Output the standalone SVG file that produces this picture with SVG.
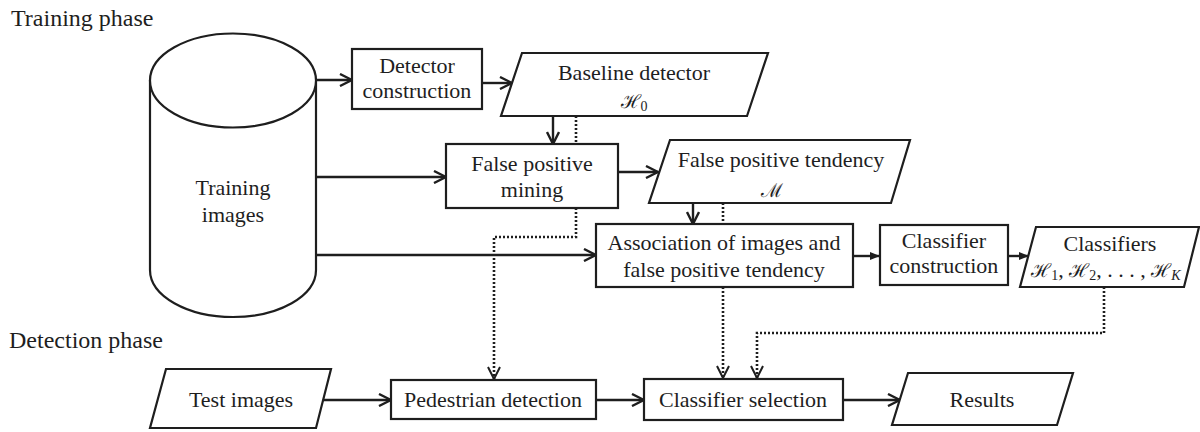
<svg xmlns="http://www.w3.org/2000/svg" width="1200" height="432" viewBox="0 0 1200 432">
<style>
text{font-family:'Liberation Serif','Times New Roman',serif;fill:#1e1e1e;font-size:22px}
.lbl{text-anchor:middle}
.title{font-size:24px}
.sub{font-size:14px}
.math{font-family:'DejaVu Serif',serif;font-size:19px}
.shape{fill:#fff;stroke:#1e1e1e;stroke-width:2.2}
.line{fill:none;stroke:#1e1e1e;stroke-width:2.4}
.dot{fill:none;stroke:#1e1e1e;stroke-width:2.6;stroke-dasharray:2 2}
</style>
<defs>
<marker id="open" viewBox="0 0 14 14" refX="13" refY="7" markerWidth="14" markerHeight="14" markerUnits="userSpaceOnUse" orient="auto">
<path d="M1,1 L13,7 L1,13" fill="none" stroke="#1e1e1e" stroke-width="2.4"/>
</marker>
<marker id="openD" viewBox="0 0 14 14" refX="13" refY="7" markerWidth="14" markerHeight="14" markerUnits="userSpaceOnUse" orient="auto">
<path d="M1,1 L13,7 L1,13" fill="none" stroke="#1e1e1e" stroke-width="2"/>
</marker>
<marker id="fill" viewBox="0 0 10 10" refX="10" refY="5" markerWidth="10" markerHeight="10" markerUnits="userSpaceOnUse" orient="auto">
<path d="M0,1 L10,5 L0,9 Z" fill="#1e1e1e"/>
</marker>
</defs>

<text class="title" x="11" y="26">Training phase</text>
<text class="title" x="9" y="348">Detection phase</text>

<g id="connectors">
<path class="line" d="M316,80 L352,80" marker-end="url(#open)"/>
<path class="line" d="M482,83 L512,83" marker-end="url(#open)"/>
<path class="line" d="M553,116 L553,144" marker-end="url(#open)"/>
<path class="line" d="M316,177 L446,177" marker-end="url(#open)"/>
<path class="line" d="M618,172 L658,172" marker-end="url(#open)"/>
<path class="line" d="M693,203 L693,224" marker-end="url(#open)"/>
<path class="line" d="M316,255 L596,255" marker-end="url(#open)"/>
<path class="line" d="M853,256 L880,256" marker-end="url(#fill)"/>
<path class="line" d="M1008,256 L1029,256" marker-end="url(#fill)"/>
<path class="line" d="M323,400 L391,400" marker-end="url(#open)"/>
<path class="line" d="M596,400 L644,400" marker-end="url(#open)"/>
<path class="line" d="M843,400 L900,400" marker-end="url(#open)"/>
<path class="dot" d="M576,116 L576,144"/>
<path class="dot" d="M576,208 L576,237 L494,237 L494,379" marker-end="url(#openD)"/>
<path class="dot" d="M723,203 L723,224"/>
<path class="dot" d="M723,287 L723,378" marker-end="url(#openD)"/>
<path class="dot" d="M1104,287 L1104,333 L757,333 L757,378" marker-end="url(#openD)"/>
</g>

<g id="training-images">
<path class="shape" d="M150,80 L150,270 A83,47 0 0 0 316,270 L316,80"/>
<ellipse class="shape" cx="233" cy="80.5" rx="83" ry="47"/>
<text class="lbl" x="233" y="195">Training</text>
<text class="lbl" x="233" y="222">images</text>
</g>

<g id="detector-construction">
<rect class="shape" x="352" y="49" width="130" height="60"/>
<text class="lbl" x="417" y="73">Detector</text>
<text class="lbl" x="417" y="98">construction</text>
</g>

<g id="baseline-detector">
<path class="shape" d="M522,53 L768,53 L747,116 L501,116 Z"/>
<text class="lbl" x="634" y="80">Baseline detector</text>
<text class="lbl" x="634" y="108"><tspan class="math">ℋ</tspan><tspan class="sub" dy="3">0</tspan></text>
</g>

<g id="fp-mining">
<rect class="shape" x="446" y="144" width="172" height="64"/>
<text class="lbl" x="532" y="171">False positive</text>
<text class="lbl" x="532" y="197">mining</text>
</g>

<g id="fp-tendency">
<path class="shape" d="M670,140 L910,140 L891,203 L649,203 Z"/>
<text class="lbl" x="781" y="167">False positive tendency</text>
<text class="lbl" x="772" y="197"><tspan class="math">ℳ</tspan></text>
</g>

<g id="association">
<rect class="shape" x="596" y="224" width="257" height="63"/>
<text class="lbl" x="724" y="250">Association of images and</text>
<text class="lbl" x="724" y="277">false positive tendency</text>
</g>

<g id="classifier-construction">
<rect class="shape" x="880" y="225" width="128" height="60"/>
<text class="lbl" x="944" y="248">Classifier</text>
<text class="lbl" x="944" y="273">construction</text>
</g>

<g id="classifiers">
<path class="shape" d="M1036,227 L1199,227 L1184,287 L1020,287 Z"/>
<text class="lbl" x="1110" y="251">Classifiers</text>
<text class="lbl" x="1106" y="277"><tspan class="math">ℋ</tspan><tspan class="sub" dy="3">1</tspan><tspan dy="-3">, </tspan><tspan class="math">ℋ</tspan><tspan class="sub" dy="3">2</tspan><tspan dy="-3">, . . . , </tspan><tspan class="math">ℋ</tspan><tspan class="sub" dy="3" font-style="italic">K</tspan></text>
</g>

<g id="test-images">
<path class="shape" d="M166,369 L331,369 L316,428 L150,428 Z"/>
<text class="lbl" x="241" y="407">Test images</text>
</g>

<g id="pedestrian-detection">
<rect class="shape" x="391" y="380" width="205" height="39"/>
<text class="lbl" x="493" y="407">Pedestrian detection</text>
</g>

<g id="classifier-selection">
<rect class="shape" x="644" y="379" width="199" height="41"/>
<text class="lbl" x="743" y="407">Classifier selection</text>
</g>

<g id="results">
<path class="shape" d="M908,373 L1073,373 L1057,425 L892,425 Z"/>
<text class="lbl" x="982" y="407">Results</text>
</g>
</svg>
